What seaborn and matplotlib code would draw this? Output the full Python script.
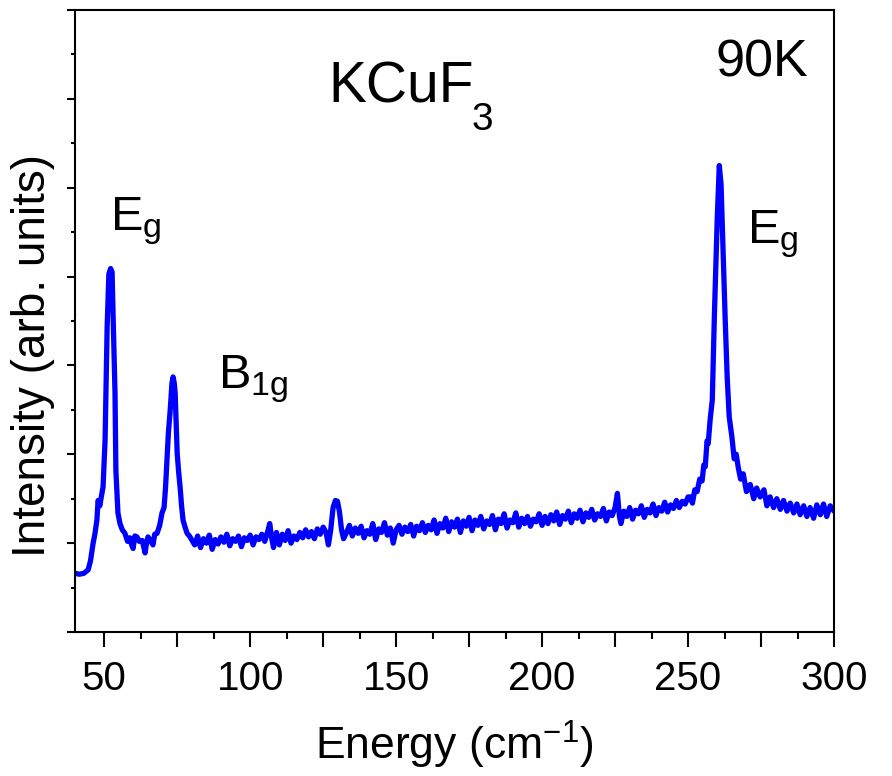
import matplotlib
matplotlib.use("Agg")
import matplotlib.pyplot as plt
import seaborn as sns
import pandas as pd
from matplotlib.ticker import MultipleLocator, FuncFormatter, NullFormatter

# Raman spectrum of KCuF3 at 90K (arb. units)
# low energy part: Eg and B1g modes
energy_low = [40.0, 41.5, 43.0, 44.5, 45.3, 46.2, 46.8, 47.5, 47.9, 48.5,
              49.0, 49.6, 50.3, 51.0, 51.6, 52.2, 52.7, 53.0, 53.7, 54.0,
              54.7, 55.4, 56.2, 57.1, 58.0, 58.8, 59.4, 59.9, 60.5, 61.2,
              62.0, 63.0, 63.6, 64.0, 64.5, 65.0, 65.8, 66.7, 67.3, 68.1,
              69.0, 69.8, 70.5, 71.0, 71.5, 72.0, 72.6, 73.2, 73.6, 74.0,
              74.3, 74.7, 75.0, 75.5, 76.0, 76.5, 77.0, 77.7, 78.4, 79.2]
intensity_low = [0.66, 0.65, 0.66, 0.70, 0.80, 1.00, 1.10, 1.26, 1.48, 1.42,
                 1.52, 1.63, 2.16, 3.43, 4.03, 4.09, 4.05, 3.62, 2.69, 1.82,
                 1.34, 1.22, 1.15, 1.11, 1.02, 1.06, 0.98, 0.94, 1.08, 1.07,
                 1.02, 1.03, 0.95, 0.89, 1.00, 1.07, 1.03, 0.98, 1.10, 1.11,
                 1.20, 1.34, 1.40, 1.62, 1.93, 2.25, 2.49, 2.80, 2.87, 2.80,
                 2.69, 2.30, 2.01, 1.80, 1.63, 1.42, 1.26, 1.18, 1.11, 1.08]

# background with the weak line near 130
energy_mid = [80.1, 81.0, 82.0, 83.0, 84.0, 85.0, 86.0, 87.0, 88.0, 89.0,
              90.0, 91.0, 92.0, 93.0, 94.0, 95.0, 96.0, 97.0, 98.0, 99.0,
              100.0, 101.0, 102.0, 103.0, 104.0, 105.0, 106.0, 106.7, 107.4, 108.0,
              109.0, 110.0, 111.0, 112.0, 113.0, 114.0, 115.0, 116.0, 117.0, 118.0,
              119.0, 120.0, 121.0, 122.0, 123.0, 124.0, 125.0, 126.0, 126.8, 127.6,
              128.4, 129.2, 129.9, 130.6, 131.3, 132.0]
intensity_mid = [1.03, 0.98, 1.08, 0.95, 1.05, 1.00, 1.09, 0.93, 1.04, 0.99,
                 1.07, 1.01, 1.10, 0.97, 1.05, 1.02, 1.08, 0.96, 1.06, 1.03,
                 1.09, 0.98, 1.07, 1.04, 1.10, 1.02, 1.13, 1.22, 1.05, 0.95,
                 1.12, 0.98, 1.10, 1.03, 1.14, 1.00, 1.08, 1.04, 1.12, 1.06,
                 1.15, 1.07, 1.13, 1.05, 1.16, 1.10, 1.18, 1.12, 0.98, 1.15,
                 1.40, 1.48, 1.47, 1.35, 1.15, 1.05]

# slowly rising background up to the strong Eg mode
energy_bg = [133.0, 134.0, 135.0, 136.0, 137.0, 138.0, 139.0, 140.0, 141.0, 142.0,
             143.0, 144.0, 145.0, 146.0, 147.0, 148.0, 149.0, 150.0,
             151.0, 152.0, 153.0, 154.0, 155.0, 156.0, 157.0, 158.0, 159.0, 160.0,
             161.0, 162.0, 163.0, 164.0, 165.0, 166.0, 167.0, 168.0, 169.0, 170.0,
             171.0, 172.0, 173.0, 174.0, 175.0, 176.0, 177.0, 178.0, 179.0, 180.0,
             181.0, 182.0, 183.0, 184.0, 185.0, 186.0, 187.0, 188.0, 189.0, 190.0,
             191.0, 192.0, 193.0, 194.0, 195.0, 196.0, 197.0, 198.0, 199.0, 200.0,
             201.0, 202.0, 203.0, 204.0, 205.0, 206.0, 207.0, 208.0, 209.0, 210.0,
             211.0, 212.0, 213.0, 214.0, 215.0, 216.0, 217.0, 218.0, 219.0, 220.0,
             221.0, 222.0, 223.0, 224.0, 225.0, 225.8, 226.5, 227.0, 228.0, 229.0,
             230.0, 231.0, 232.0, 233.0, 234.0, 235.0, 236.0, 237.0, 238.0, 239.0,
             240.0, 241.0, 242.0, 243.0, 244.0, 245.0, 246.0, 247.0, 248.0, 249.0,
             250.0]
intensity_bg = [1.12, 1.20, 1.08, 1.17, 1.11, 1.19, 1.06, 1.14, 1.10, 1.22,
                1.04, 1.16, 1.12, 1.23, 1.09, 1.17, 1.00, 1.15,
                1.20, 1.10, 1.18, 1.13, 1.21, 1.08, 1.19, 1.14, 1.23, 1.12,
                1.20, 1.15, 1.26, 1.11, 1.22, 1.17, 1.28, 1.13, 1.24, 1.18,
                1.27, 1.12, 1.25, 1.19, 1.29, 1.14, 1.26, 1.20, 1.30, 1.16,
                1.25, 1.21, 1.31, 1.15, 1.27, 1.22, 1.33, 1.17, 1.26, 1.23,
                1.34, 1.18, 1.28, 1.22, 1.30, 1.19, 1.27, 1.24, 1.33, 1.20,
                1.30, 1.22, 1.32, 1.25, 1.35, 1.21, 1.31, 1.27, 1.36, 1.23,
                1.33, 1.28, 1.37, 1.24, 1.34, 1.29, 1.38, 1.26, 1.33, 1.30,
                1.39, 1.25, 1.35, 1.31, 1.40, 1.56, 1.30, 1.22, 1.36, 1.30,
                1.40, 1.27, 1.37, 1.33, 1.42, 1.29, 1.38, 1.34, 1.44, 1.31,
                1.40, 1.36, 1.46, 1.35, 1.43, 1.39, 1.48, 1.40, 1.47, 1.44,
                1.52]

# strong Eg mode near 260 and its tail
energy_high = [250.7, 251.5, 252.3, 253.1, 254.0, 254.8, 255.4, 255.9, 256.5, 256.9,
               257.6, 258.3, 259.0, 260.0, 260.7, 261.3, 262.0, 262.7, 263.4, 264.1,
               265.0, 265.8, 266.5, 267.2, 268.0, 268.9, 270.0, 271.3, 272.5, 273.5,
               274.7, 276.0, 277.0, 278.1, 279.3, 280.4, 281.6, 282.7, 283.9, 285.0,
               286.2, 287.3, 288.4, 289.6, 290.7, 291.8, 293.0, 294.1, 295.3, 296.4,
               297.5, 298.7, 300.0]
intensity_high = [1.52, 1.45, 1.60, 1.58, 1.72, 1.70, 1.88, 1.86, 2.15, 2.12,
                  2.40, 2.61, 3.54, 4.66, 5.25, 5.04, 4.29, 3.54, 2.87, 2.42,
                  2.20, 1.95, 2.00, 1.85, 1.72, 1.78, 1.58, 1.66, 1.50, 1.62,
                  1.52, 1.60, 1.42, 1.52, 1.40, 1.50, 1.38, 1.48, 1.36, 1.45,
                  1.34, 1.44, 1.32, 1.42, 1.30, 1.40, 1.28, 1.43, 1.32, 1.44,
                  1.30, 1.42, 1.36]

energy = energy_low + energy_mid + energy_bg + energy_high
intensity = intensity_low + intensity_mid + intensity_bg + intensity_high
df = pd.DataFrame({"Energy": energy, "Intensity": intensity})

sns.set_style("ticks")
plt.rcParams['font.family'] = ['Liberation Sans', 'DejaVu Sans']
plt.rcParams['mathtext.fontset'] = 'custom'
plt.rcParams['mathtext.rm'] = 'Liberation Sans'
plt.rcParams['mathtext.it'] = 'Liberation Sans:italic'
plt.rcParams['mathtext.bf'] = 'Liberation Sans:bold'
plt.rcParams['text.color'] = 'black'

fig = plt.figure(figsize=(8.92, 7.76), dpi=100)
ax = fig.add_axes([0.0841, 0.1856, 0.8509, 0.8015])

sns.lineplot(data=df, x="Energy", y="Intensity", color="#0000ff", linewidth=3.8,
             sort=False, estimator=None, ax=ax)

ax.set_xlim(40, 300)
ax.set_ylim(0, 7)
ax.xaxis.set_major_locator(MultipleLocator(25))
ax.xaxis.set_minor_locator(MultipleLocator(12.5))
ax.xaxis.set_major_formatter(FuncFormatter(lambda v, p: f"{v:.0f}" if v % 50 == 0 else ""))
ax.yaxis.set_major_locator(MultipleLocator(1))
ax.yaxis.set_minor_locator(MultipleLocator(0.5))
ax.yaxis.set_major_formatter(NullFormatter())

ax.tick_params(axis="x", which="major", direction="out", length=10.5, width=1.5,
               color="black", labelsize=29, pad=10, labelcolor="black")
ax.tick_params(axis="x", which="minor", direction="out", length=5, width=1.5, color="black")
ax.tick_params(axis="y", which="major", direction="out", length=6, width=1.5, color="black")
ax.tick_params(axis="y", which="minor", direction="out", length=3, width=1.5, color="black")
for s in ax.spines.values():
    s.set_linewidth(1.5)
    s.set_color("black")

ax.set_xlabel("Energy (cm$^{-1}$)", fontsize=32, labelpad=15, color="black")
ax.set_ylabel("Intensity (arb. units)", fontsize=33, color="black")
ax.yaxis.set_label_coords(-0.027, 0.444)

# mode labels
ax.text(52.0, 4.52, "E$_\\mathrm{g}$", fontsize=35, ha="left", va="baseline", color="black")
ax.text(89.0, 2.74, "B$_\\mathrm{1g}$", fontsize=35, ha="left", va="baseline", color="black")
ax.text(270.3, 4.38, "E$_\\mathrm{g}$", fontsize=35, ha="left", va="baseline", color="black")
ax.text(126.7, 5.96, "KCuF", fontsize=41, ha="left", va="baseline", color="black")
ax.text(176.0, 5.65, "3", fontsize=28, ha="left", va="baseline", color="black")
ax.text(259.3, 6.25, "90K", fontsize=37.5, ha="left", va="baseline", color="black")

plt.savefig("out.png", dpi=100)
